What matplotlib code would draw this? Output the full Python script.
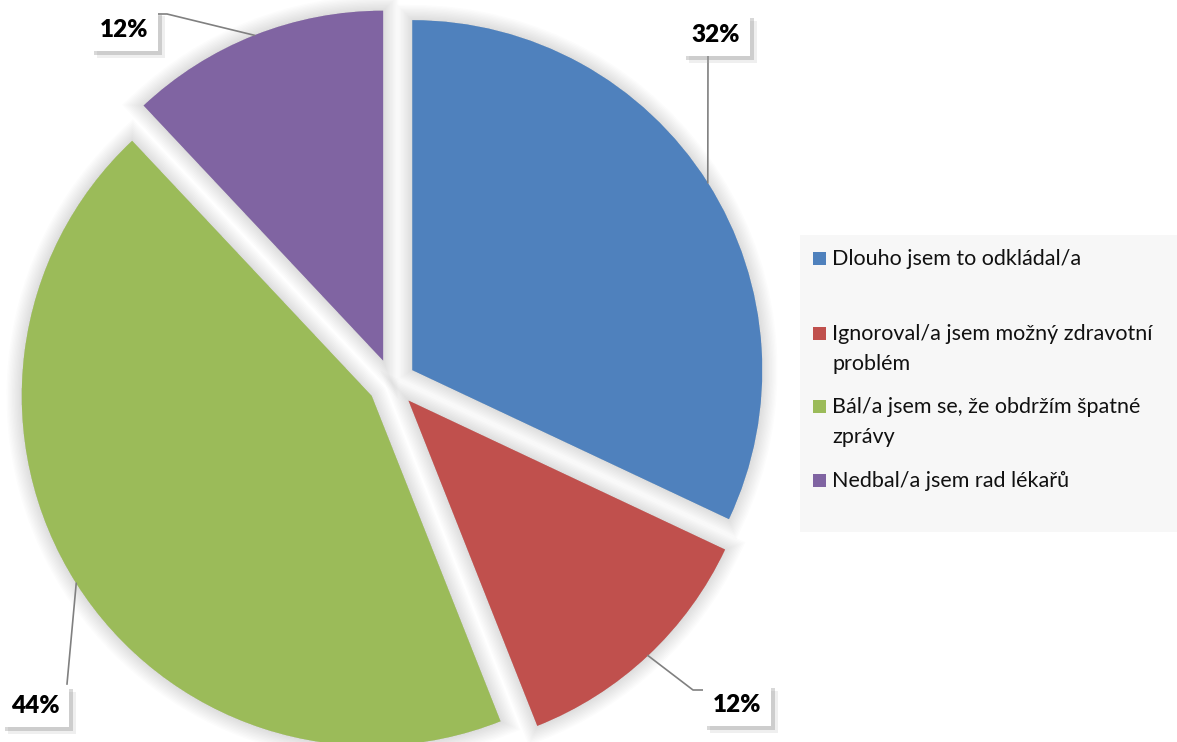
import numpy as np
import matplotlib
matplotlib.use("Agg")
import matplotlib.pyplot as plt
import matplotlib.patheffects as pe
from matplotlib.patches import Rectangle

plt.rcParams['font.family'] = ['Lato', 'DejaVu Sans']

# survey answers and their shares (%)
categories = ["Dlouho jsem to odkládal/a",
              "Ignoroval/a jsem možný zdravotní\nproblém",
              "Bál/a jsem se, že obdržím špatné\nzprávy",
              "Nedbal/a jsem rad lékařů"]
shares = [32, 12, 44, 12]
colors = ["#4F81BD", "#C0504D", "#9BBB59", "#8064A2"]

W, H = 1177, 742

# label boxes (text centre) and leader-line break points, in pixels from top-left
label_pos = [(716, 35), (737, 705), (35, 706), (124, 30)]
leader_pts = [[(708, 55)],
              [(693, 690), (705, 690)],
              [(67, 684)],
              [(167, 14), (157, 14)]]

fig = plt.figure(figsize=(W / 100, H / 100), dpi=100)
ax = fig.add_axes([0, 0, 1, 1])

radius = 350
wedges, _ = ax.pie(shares, colors=colors, startangle=90, counterclock=False,
                   radius=radius, center=(392, H - 383),
                   explode=[24] * len(shares),
                   wedgeprops=dict(linewidth=0))
ax.set_xlim(0, W)
ax.set_ylim(0, H)
ax.set_aspect('equal')
ax.axis('off')

# soft grey halo around each slice
glow = [pe.Stroke(linewidth=lw, foreground='#000000', alpha=0.012)
        for lw in np.arange(22, 1, -2)] + [pe.Normal()]
for w in wedges:
    w.set_path_effects(glow)

# percentage labels with leader lines from the arc midpoints
for w, val, (lx, ly), pts in zip(wedges, shares, label_pos, leader_pts):
    mid = np.deg2rad((w.theta1 + w.theta2) / 2)
    cx, cy = w.center
    anchor = (cx + w.r * np.cos(mid), cy + w.r * np.sin(mid))
    xs = [anchor[0]] + [p[0] for p in pts]
    ys = [anchor[1]] + [H - p[1] for p in pts]
    ax.plot(xs, ys, color='#808080', lw=1.2, zorder=3)
    t = ax.text(lx, H - ly, f"{val}%", ha='center', va='center',
                fontsize=17.5, fontweight='heavy', color='black', zorder=5,
                bbox=dict(boxstyle='square,pad=0.4', fc='white', ec='none'))
    t.get_bbox_patch().set_path_effects([
        pe.SimplePatchShadow(offset=(5, -5), shadow_rgbFace='#b0b0b0', alpha=0.2),
        pe.SimplePatchShadow(offset=(3, -3), shadow_rgbFace='#909090', alpha=0.35),
        pe.Normal()])

# legend panel
ax.add_patch(Rectangle((800, H - 532), 377, 297, fc='#f7f7f7', ec='none', zorder=1))
legend_base = [265, 340, 413, 487]
for cat, col, yb in zip(categories, colors, legend_base):
    ax.add_patch(Rectangle((813, H - yb), 13, 13, fc=col, ec='none', zorder=2))
    for k, line in enumerate(cat.split('\n')):
        ax.text(832, H - yb - 30 * k, line, ha='left', va='baseline',
                fontsize=15.5, color='#111111', zorder=2)

fig.savefig("out.png", dpi=100)
